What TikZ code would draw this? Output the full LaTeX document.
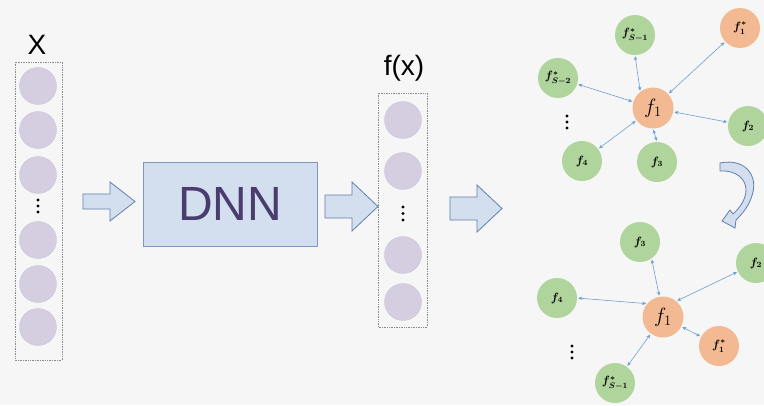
\documentclass[tikz,border=0pt]{standalone}
\usepackage{fontspec}
\newfontfamily\arialf{Liberation Sans}
\usetikzlibrary{arrows.meta}
\definecolor{bg}{HTML}{F6F6F6}
\definecolor{neur}{HTML}{D4CEE0}
\definecolor{neurb}{HTML}{C6BFD6}
\definecolor{grn}{HTML}{AFD49C}
\definecolor{org}{HTML}{F3B992}
\definecolor{arrf}{HTML}{D3DEEE}
\definecolor{arrd}{HTML}{5F80AA}
\definecolor{dnnd}{HTML}{7E98C0}
\definecolor{edgec}{HTML}{6E9FD2}
\definecolor{dnntxt}{HTML}{4A3C6C}
\definecolor{boxc}{HTML}{8A8A8A}
\tikzset{
  neuron/.style={circle, fill=neur, draw=neurb, line width=0.3pt, minimum size=37pt, inner sep=0pt},
  colbox/.style={draw=boxc, densely dotted, line width=0.7pt},
  gnode/.style={circle, fill=grn, minimum size=40pt, inner sep=0pt, font=\fontsize{12}{14}\selectfont\boldmath},
  onode/.style={circle, fill=org, minimum size=40pt, inner sep=0pt, font=\fontsize{12}{14}\selectfont\boldmath},
  cnode/.style={circle, fill=org, minimum size=41pt, inner sep=0pt, font=\fontsize{21}{24}\selectfont},
  link/.style={draw=edgec, line width=0.6pt, {Stealth[length=4pt,width=3.5pt]}-{Stealth[length=4pt,width=3.5pt]}, shorten <=1pt, shorten >=1pt},
  blockarrow/.style={fill=arrf, draw=arrd, line width=0.8pt, line join=miter},
  vdot/.style={fill=black},
  biglabel/.style={font=\arialf\fontsize{28}{30}\selectfont, inner sep=0pt},
}
\begin{document}
\begin{tikzpicture}[x=1pt,y=-1pt]
\useasboundingbox (0,0) rectangle (764,405);
\fill[bg] (0,0) rectangle (764,405);

% ---- input column ----
\node[biglabel] (xlab) at (37,45) {X};
\draw[colbox] (15,62) rectangle (62,360);
\node[neuron] (x1) at (38,86) {};
\node[neuron] (x2) at (38,130) {};
\node[neuron] (x3) at (38,175) {};
\node[neuron] (x4) at (38,240) {};
\node[neuron] (x5) at (38,284) {};
\node[neuron] (x6) at (38,327) {};
\foreach \yy in {200,206,212} \fill[vdot] (38,\yy) circle (1.7pt);

% ---- arrows ----
\draw[blockarrow] (83,194) -- (110,194) -- (110,182) -- (135,201.5) -- (110,221) -- (110,209) -- (83,209) -- cycle;
\draw[blockarrow] (325,195) -- (352,195) -- (352,182) -- (378,206.5) -- (352,231) -- (352,218) -- (325,218) -- cycle;
\draw[blockarrow] (450,197) -- (477,197) -- (477,185) -- (502,208.5) -- (477,232) -- (477,220) -- (450,220) -- cycle;

% ---- DNN ----
\node[fill=arrf, draw=dnnd, line width=0.8pt, minimum width=174pt, minimum height=84pt, inner sep=0pt,
      font=\arialf\fontsize{48}{50}\selectfont, text=dnntxt] (dnn) at (230,204) {DNN};

% ---- output column ----
\node[biglabel] (fxlab) at (404,68) {f(x)};
\draw[colbox] (378,93) rectangle (427,327);
\node[neuron] (y1) at (403,120) {};
\node[neuron] (y2) at (403,171) {};
\node[neuron] (y3) at (403,255) {};
\node[neuron] (y4) at (403,302) {};
\foreach \yy in {207,213.5,220} \fill[vdot] (403,\yy) circle (1.7pt);

% ---- top graph ----
\node[cnode] (tf1) at (653,108) {$f_1$};
\node[gnode] (tfs1) at (635,35) {$f^{*}_{S-1}$};
\node[onode] (tfstar) at (740,28) {$f^{*}_{1}$};
\node[gnode] (tfs2) at (558,78) {$f^{*}_{S-2}$};
\node[gnode] (tf2) at (748,126) {$f_2$};
\node[gnode] (tf4) at (582,161) {$f_4$};
\node[gnode] (tf3) at (657,162) {$f_3$};
\foreach \yy in {116,122,128} \fill[vdot] (567,\yy) circle (1.7pt);
\draw[link] (tfs1.south) -- (tf1.128);
\draw[link] (tfstar) -- (tf1);
\draw[link] (tfs2) -- (tf1);
\draw[link] (tf2) -- (tf1);
\draw[link] (tf4) -- (tf1);
\draw[link] (tf3.north) -- (tf1.south);

% ---- curved arrow ----
\draw[blockarrow, line join=round] (720,163) .. controls (745,158) and (757,175) .. (753,192)
  .. controls (750,205) and (743,213) .. (736,220)
  -- (735,228) -- (722,221) -- (730,210) -- (733,214)
  .. controls (741,207) and (746,198) .. (746,190)
  .. controls (746,178) and (735,170) .. (720,171) -- cycle;

% ---- bottom graph ----
\node[cnode] (bf1) at (663,317) {$f_1$};
\node[gnode] (bf3) at (640,242) {$f_3$};
\node[gnode] (bf2) at (756,263) {$f_2$};
\node[gnode] (bf4) at (557,298) {$f_4$};
\node[onode] (bfstar) at (719,346) {$f^{*}_{1}$};
\node[gnode] (bfs1) at (615,383) {$f^{*}_{S-1}$};
\foreach \yy in {346,352,358} \fill[vdot] (572,\yy) circle (1.7pt);
\draw[link] (bf3.-55) -- (bf1.100);
\draw[link] (bf2) -- (bf1.50);
\draw[link] (bf4.east) -- (bf1.140);
\draw[link] (bfstar) -- (bf1);
\draw[link] (bfs1) -- (bf1);
\end{tikzpicture}
\end{document}
